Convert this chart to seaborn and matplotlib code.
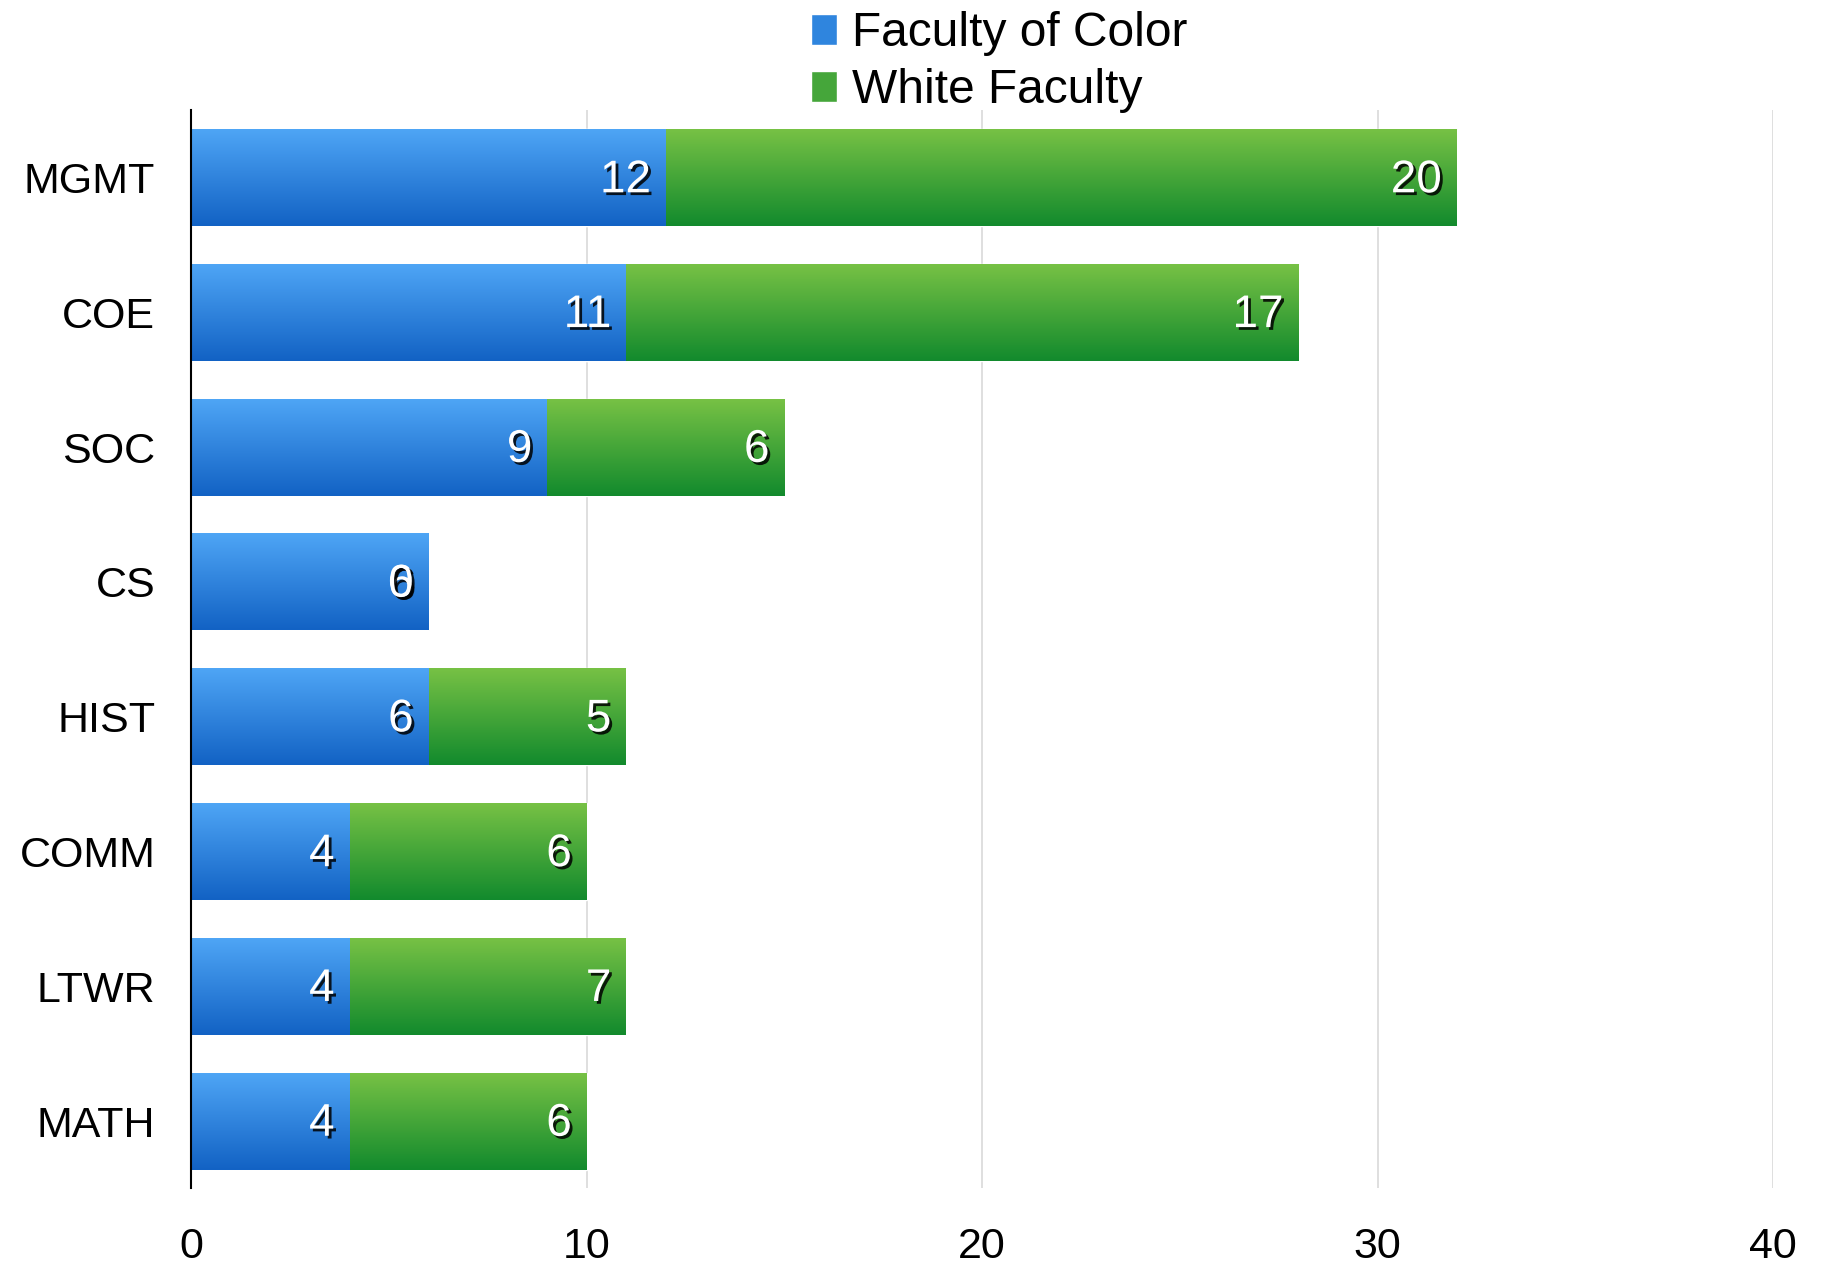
import numpy as np
import pandas as pd
import seaborn as sns
import matplotlib.pyplot as plt
import matplotlib.patheffects as pe
from matplotlib.colors import LinearSegmentedColormap
from matplotlib.patches import Patch

departments = ['MGMT', 'COE', 'SOC', 'CS', 'HIST', 'COMM', 'LTWR', 'MATH']
faculty_of_color = [12, 11, 9, 6, 6, 4, 4, 4]
white_faculty = [20, 17, 6, 0, 5, 6, 7, 6]
x_ticks = [0, 10, 20, 30, 40]

blue_top, blue_bot = '#4fa6f6', '#1262c4'
green_top, green_bot = '#78c245', '#128a2d'

df = pd.DataFrame({'dept': departments, 'foc': faculty_of_color, 'white': white_faculty})
df['total'] = df['foc'] + df['white']

sns.set_style('white')
plt.rcParams['font.family'] = ['Liberation Sans', 'DejaVu Sans']
plt.rcParams['text.color'] = 'black'
plt.rcParams['xtick.color'] = 'black'
plt.rcParams['ytick.color'] = 'black'

fig = plt.figure(figsize=(18.23, 12.67), dpi=100)
ax = fig.add_axes([0.105, 0.062, 0.8676, 0.851])

sns.barplot(data=df, y='dept', x='total', color=green_bot, orient='h', width=0.72, ax=ax)
n_white = len(ax.patches)
sns.barplot(data=df, y='dept', x='foc', color=blue_bot, orient='h', width=0.72, ax=ax)
white_patches = ax.patches[:n_white]
foc_patches = ax.patches[n_white:]


def shade(patches, top, bot):
    cmap = LinearSegmentedColormap.from_list('g', [top, bot])
    grad = np.linspace(0, 1, 256).reshape(-1, 1)
    for p in patches:
        x0, y0 = p.get_x(), p.get_y()
        w, h = p.get_width(), p.get_height()
        if w <= 0:
            continue
        im = ax.imshow(grad, cmap=cmap, aspect='auto', origin='upper',
                       extent=[x0, x0 + w, y0 + h, y0], zorder=p.get_zorder() + 0.1,
                       interpolation='bilinear')
        im.set_clip_path(p)


shade(white_patches, green_top, green_bot)
shade(foc_patches, blue_top, blue_bot)

shadow = [pe.withSimplePatchShadow(offset=(2, -2), shadow_rgbFace='black', alpha=0.85)]
for i, row in df.iterrows():
    ax.text(row['foc'] - 0.38, i + 0.02, str(row['foc']), ha='right', va='center',
            color='white', fontsize=33, path_effects=shadow, zorder=5)
    ax.text(row['total'] - 0.38, i + 0.02, str(row['white']), ha='right', va='center',
            color='white', fontsize=33, path_effects=shadow, zorder=5)

ax.set_xlim(0, 40)
ax.set_ylim(7.5, -0.5)
ax.set_xticks(x_ticks)
ax.set_xticklabels([str(t) for t in x_ticks])
ax.set_xlabel('')
ax.set_ylabel('')
ax.xaxis.grid(True, color='#d9d9d9', linewidth=1.2)
ax.set_axisbelow(True)
for s in ['top', 'right', 'bottom']:
    ax.spines[s].set_visible(False)
ax.spines['left'].set_color('black')
ax.spines['left'].set_linewidth(1.5)
ax.tick_params(axis='x', length=0, pad=28, labelsize=31)
ax.tick_params(axis='y', length=0, pad=26, labelsize=31)

handles = [Patch(facecolor='#2f85de', label='Faculty of Color'),
           Patch(facecolor='#45a63a', label='White Faculty')]
fig.legend(handles=handles, loc='upper center', bbox_to_anchor=(0.548, 0.993), frameon=False,
           fontsize=34.5, handlelength=0.55, handleheight=0.6, handletextpad=0.3,
           labelspacing=0.25, borderpad=0.05, borderaxespad=0)

fig.savefig('out.png', dpi=100)
